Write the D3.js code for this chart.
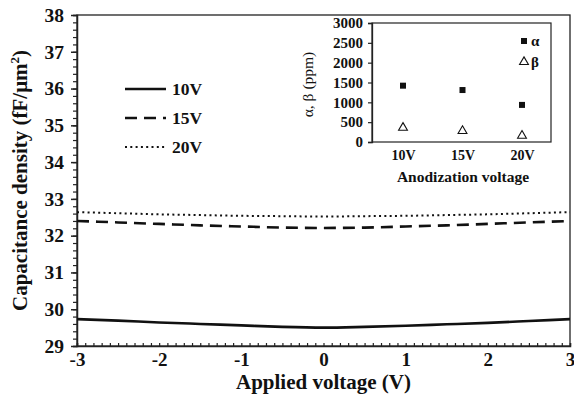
<!DOCTYPE html>
<html>
<head>
<meta charset="utf-8">
<script src="https://cdn.jsdelivr.net/npm/d3@7"></script>
<style>
  html, body { margin: 0; padding: 0; background: #fff; }
  svg { display: block; }
  text { font-family: "Liberation Serif", "Times New Roman", serif; fill: #111; }
</style>
</head>
<body>
<svg id="chart" width="574" height="405"></svg>
<script>
// Applied bias (V) and capacitance density (fF/um^2) per anodization voltage
const biasV = [-3, -2.5, -2, -1.5, -1, -0.5, 0, 0.5, 1, 1.5, 2, 2.5, 3];
const cap10V = [29.73, 29.69, 29.64, 29.60, 29.56, 29.52, 29.50, 29.52, 29.55, 29.59, 29.63, 29.68, 29.73];
const cap15V = [32.40, 32.36, 32.32, 32.28, 32.25, 32.22, 32.21, 32.22, 32.25, 32.28, 32.32, 32.36, 32.40];
const cap20V = [32.64, 32.61, 32.58, 32.56, 32.54, 32.53, 32.52, 32.53, 32.54, 32.56, 32.58, 32.61, 32.64];
const seriesNames = ["10V", "15V", "20V"];

// Inset: voltage coefficients vs anodization voltage
const anodCats = ["10V", "15V", "20V"];
const alphaPpm = [1420, 1310, 935];
const betaPpm = [360, 280, 160];

const xTicks = [-3, -2, -1, 0, 1, 2, 3];
const yTicks = [29, 30, 31, 32, 33, 34, 35, 36, 37, 38];
const insetYTicks = [0, 500, 1000, 1500, 2000, 2500, 3000];

const FONT = "Liberation Serif";
const svg = d3.select("#chart");
const m = { left: 77, right: 570, top: 15, bottom: 346 };

const x = d3.scaleLinear().domain([-3, 3]).range([m.left, m.right]);
const y = d3.scaleLinear().domain([29, 38]).range([m.bottom, m.top]);
const plain = d => String(d); // hyphen-minus for negative ticks

// Frame
svg.append("rect")
  .attr("x", m.left).attr("y", m.top)
  .attr("width", m.right - m.left).attr("height", m.bottom - m.top)
  .attr("fill", "none").attr("stroke", "#222").attr("stroke-width", 1.3);

// Y axis: major labelled ticks plus 0.2 minor ticks, outward
const yAxis = svg.append("g").attr("transform", `translate(${m.left},0)`);
yAxis.call(d3.axisLeft(y).tickValues(d3.range(29, 38.001, 0.2)).tickSize(4).tickFormat(""))
  .call(g => g.select(".domain").attr("stroke", "#222").attr("stroke-width", 1.5))
  .call(g => g.selectAll(".tick line").attr("stroke", "#222").attr("stroke-width", 1.2));
yAxis.append("g").call(d3.axisLeft(y).tickValues(yTicks).tickSize(6).tickPadding(7).tickFormat(plain))
  .call(g => g.select(".domain").remove())
  .call(g => g.selectAll(".tick line").attr("stroke", "#222").attr("stroke-width", 1.5))
  .call(g => g.selectAll(".tick text")
    .attr("fill", "#111").attr("font-size", 19.5).attr("font-weight", "bold")
    .attr("font-family", FONT));

// X axis: 0.1 minor ticks pointing inward, labels below
const xAxis = svg.append("g").attr("transform", `translate(0,${m.bottom})`);
xAxis.call(d3.axisTop(x).tickValues(d3.range(-30, 31).map(d => d / 10)).tickSize(3).tickFormat(""))
  .call(g => g.select(".domain").attr("stroke", "#222").attr("stroke-width", 1.5))
  .call(g => g.selectAll(".tick line").attr("stroke", "#222").attr("stroke-width", 1.2));
xAxis.append("g").call(d3.axisBottom(x).tickValues(xTicks).tickSize(0).tickPadding(6.5).tickFormat(plain))
  .call(g => g.select(".domain").remove())
  .call(g => g.selectAll(".tick text")
    .attr("fill", "#111").attr("font-size", 19).attr("font-weight", "bold")
    .attr("font-family", FONT));

// Axis titles
svg.append("text")
  .attr("x", (m.left + m.right) / 2).attr("y", 389)
  .attr("text-anchor", "middle").attr("font-size", 21).attr("font-weight", "bold")
  .text("Applied voltage (V)");

const yTitle = svg.append("text")
  .attr("transform", `translate(27,${(m.top + m.bottom) / 2}) rotate(-90)`)
  .attr("text-anchor", "middle").attr("font-size", 21).attr("font-weight", "bold");
yTitle.append("tspan").text("Capacitance density (fF/\u03bcm");
yTitle.append("tspan").attr("dy", -8).attr("font-size", 13).text("2");
yTitle.append("tspan").attr("dy", 8).text(")");

// Curves
const styles = [
  { width: 2.6, dash: null },
  { width: 2.6, dash: "12,7" },
  { width: 2, dash: "2,3.3" }
];
const line = d3.line().x((d, i) => x(biasV[i])).y(d => y(d)).curve(d3.curveMonotoneX);
[cap10V, cap15V, cap20V].forEach((vals, k) => {
  svg.append("path")
    .datum(vals)
    .attr("d", line)
    .attr("fill", "none").attr("stroke", "#111")
    .attr("stroke-width", styles[k].width)
    .attr("stroke-dasharray", styles[k].dash);
});

// Legend
const legendY = [89, 118, 147];
seriesNames.forEach((name, k) => {
  svg.append("line")
    .attr("x1", 125).attr("x2", 166).attr("y1", legendY[k]).attr("y2", legendY[k])
    .attr("stroke", "#111").attr("stroke-width", styles[k].width)
    .attr("stroke-dasharray", styles[k].dash);
  svg.append("text")
    .attr("x", 172).attr("y", legendY[k] + 6)
    .attr("font-size", 17.5).attr("font-weight", "bold")
    .text(name);
});

// Inset chart
const ins = { left: 372, right: 551, top: 23, bottom: 142 };
const xi = d3.scalePoint().domain(anodCats).range([403, 522]);
const yi = d3.scaleLinear().domain([0, 3000]).range([ins.bottom, ins.top]);

svg.append("rect")
  .attr("x", ins.left).attr("y", ins.top)
  .attr("width", ins.right - ins.left).attr("height", ins.bottom - ins.top)
  .attr("fill", "#fff").attr("stroke", "#222").attr("stroke-width", 1.2);

svg.append("g").attr("transform", `translate(${ins.left},0)`)
  .call(d3.axisLeft(yi).tickValues(insetYTicks).tickSize(4).tickPadding(5).tickFormat(plain))
  .call(g => g.select(".domain").attr("stroke", "#222").attr("stroke-width", 1.3))
  .call(g => g.selectAll(".tick line").attr("stroke", "#222").attr("stroke-width", 1.2))
  .call(g => g.selectAll(".tick text")
    .attr("fill", "#111").attr("font-size", 15).attr("font-weight", "bold")
    .attr("font-family", FONT));

svg.append("g").attr("transform", `translate(0,${ins.bottom})`)
  .call(d3.axisBottom(xi).tickSize(0).tickPadding(8))
  .call(g => g.select(".domain").remove())
  .call(g => g.selectAll(".tick text")
    .attr("fill", "#111").attr("font-size", 14).attr("font-weight", "bold")
    .attr("font-family", FONT));

svg.append("text")
  .attr("x", 463).attr("y", 182)
  .attr("text-anchor", "middle").attr("font-size", 15.5).attr("font-weight", "bold")
  .text("Anodization voltage");

svg.append("text")
  .attr("transform", `translate(313,${(ins.top + ins.bottom) / 2 + 2}) rotate(-90)`)
  .attr("text-anchor", "middle").attr("font-size", 15.5)
  .text("\u03b1, \u03b2 (ppm)");

const tri = d3.symbol().type(d3.symbolTriangle).size(34);

svg.append("g").selectAll("rect")
  .data(alphaPpm)
  .join("rect")
  .attr("x", (d, i) => xi(anodCats[i]) - 3).attr("y", d => yi(d) - 3)
  .attr("width", 6).attr("height", 6).attr("fill", "#111");

svg.append("g").selectAll("path")
  .data(betaPpm)
  .join("path")
  .attr("d", tri)
  .attr("transform", (d, i) => `translate(${xi(anodCats[i])},${yi(d)})`)
  .attr("fill", "#fff").attr("stroke", "#111").attr("stroke-width", 1.1);

// Inset legend
svg.append("rect").attr("x", 521).attr("y", 38).attr("width", 6).attr("height", 6).attr("fill", "#111");
svg.append("text").attr("x", 531).attr("y", 46).attr("font-size", 15).attr("font-weight", "bold").text("\u03b1");
svg.append("path").attr("d", tri).attr("transform", "translate(524,62)")
  .attr("fill", "#fff").attr("stroke", "#111").attr("stroke-width", 1.1);
svg.append("text").attr("x", 531).attr("y", 67).attr("font-size", 15).attr("font-weight", "bold").text("\u03b2");
</script>
</body>
</html>
